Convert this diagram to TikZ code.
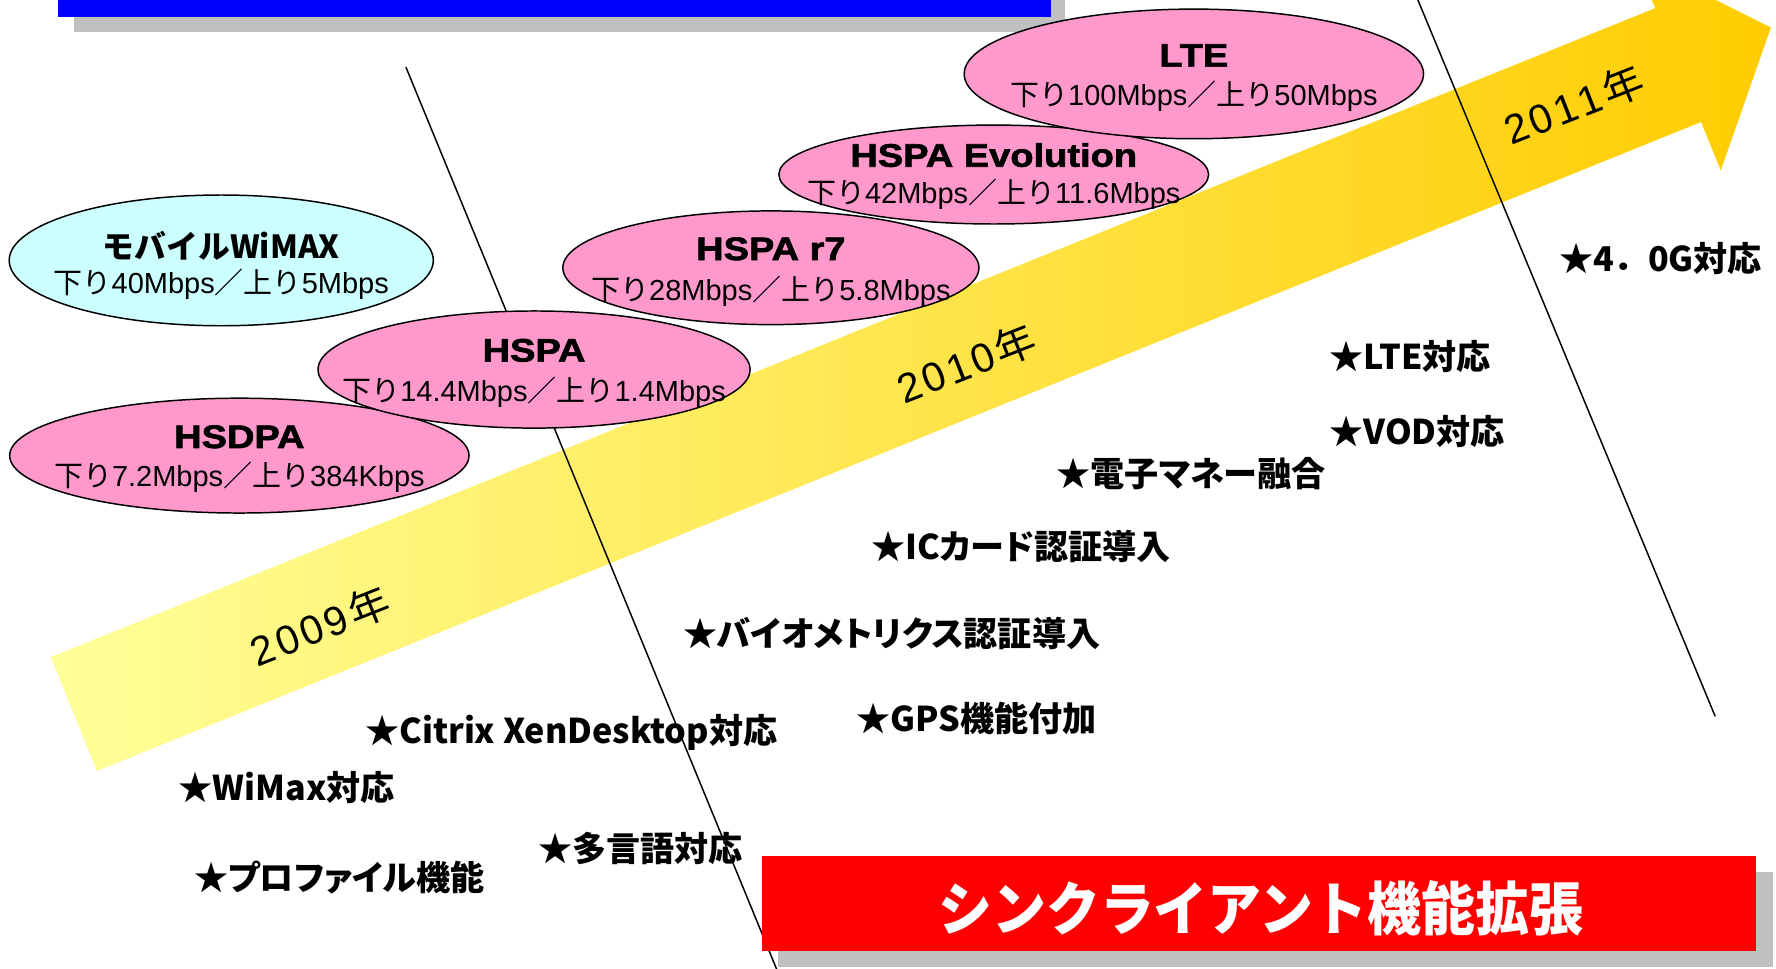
\documentclass[tikz,border=0pt]{standalone}
\usepackage{fontspec}
\setmainfont{Liberation Sans}
\newfontfamily\jp{Noto Sans CJK JP}
\newfontfamily\jpp[RawFeature=+palt]{Noto Sans CJK JP}
\newfontfamily\ttlf[FakeStretch=1.17, FakeBold=2]{Liberation Sans}
\newfontfamily\bigjp[FakeStretch=0.93]{Noto Sans CJK JP}
\usetikzlibrary{shapes.geometric}
\definecolor{pinkfill}{HTML}{FF99CC}
\definecolor{cyanfill}{HTML}{CCFFFF}
\definecolor{shadowgray}{HTML}{C0C0C0}
\definecolor{arrowL}{HTML}{FFFF99}
\definecolor{arrowR}{HTML}{FFCC00}
\definecolor{bannerblue}{HTML}{0000FF}
\definecolor{bannerred}{HTML}{FF0000}
\tikzset{
  ell/.style={ellipse, draw=black, line width=1.3pt, inner sep=0pt, outer sep=0pt},
  ttl/.style={anchor=base, inner sep=0pt, font=\ttlf\bfseries\fontsize{28.6}{30}\selectfont},
  jttl/.style={anchor=base, inner sep=0pt, font=\jp\bfseries\fontsize{28}{30}\selectfont},
  sub/.style={anchor=base, inner sep=0pt, font=\fontsize{25.5}{28}\selectfont},
  item/.style={anchor=base west, inner sep=0pt, font=\jpp\bfseries\fontsize{30}{32}\selectfont},
  yr/.style={rotate=21.5, inner sep=0pt, font=\fontsize{36}{38}\selectfont},
  divline/.style={draw=black, line width=1.3pt},
  box/.style={inner sep=0pt, outer sep=0pt, draw=none},
}
\newcommand\J[1]{{\jp #1}}
\newcommand\ks{\kern3pt}
\begin{document}
\begin{tikzpicture}[x=1pt,y=-1pt]
\useasboundingbox (0,0) rectangle (1562,852.2);
\clip (0,0) rectangle (1562,852.2);
% top banner (cut off)
\node[box, fill=shadowgray, anchor=south west, minimum width=872, minimum height=40] (bannershadow) at (64.8,27.9) {};
\node[box, fill=bannerblue, anchor=south west, minimum width=873.2, minimum height=40] (banner) at (51.2,14.7) {};
% big arrow
\shade[left color=arrowL, right color=arrowR]
  (44.75,577.9) -- (1455.65,7.19) -- (1438.4,-35.45) -- (1557.5,24.25)
  -- (1513.4,149.95) -- (1496.1,107.3) -- (85.25,678.06) -- cycle;
% year labels
\node[yr] (y2009) at (281.4,550.5) {2\ks0\ks0\ks9\ks\J{年}};
\node[yr] (y2010) at (850,319.5) {2\ks0\ks1\ks0\ks\J{年}};
\node[yr] (y2011) at (1384,92) {2\ks0\ks1\ks1\ks\J{年}};
% divider lines
\draw[divline] (357,59) -- (687,862);
\draw[divline] (1245.8,-3) -- (1508.5,630);
% ellipses
\node[ell, fill=cyanfill, minimum width=373, minimum height=115] (wimax) at (194.6,229) {};
\node[jttl] (wimaxT) at (194.6,227) {モバイルWiMAX};
\node[sub] (wimaxS) at (194.6,258) {\J{下り}40Mbps\J{／上り}5Mbps};

\node[ell, fill=pinkfill, minimum width=404, minimum height=101] (hsdpa) at (210.5,400.7) {};
\node[ttl] (hsdpaT) at (210.5,394) {HSDPA};
\node[sub] (hsdpaS) at (210.5,428) {\J{下り}7.2Mbps\J{／上り}384Kbps};

\node[ell, fill=pinkfill, minimum width=380, minimum height=103] (hspa) at (469.7,325) {};
\node[ttl] (hspaT) at (469.7,318) {HSPA};
\node[sub] (hspaS) at (469.7,353.3) {\J{下り}14.4Mbps\J{／上り}1.4Mbps};

\node[ell, fill=pinkfill, minimum width=366, minimum height=100] (r7) at (678,235.5) {};
\node[ttl] (r7T) at (678,228.7) {HSPA r7};
\node[sub] (r7S) at (678,263.9) {\J{下り}28Mbps\J{／上り}5.8Mbps};

\node[ell, fill=pinkfill, minimum width=378, minimum height=87] (evo) at (874,153.5) {};
\node[ttl] (evoT) at (874,146.6) {HSPA Evolution};
\node[sub] (evoS) at (874,179.4) {\J{下り}42Mbps\J{／上り}11.6Mbps};

\node[ell, fill=pinkfill, minimum width=404, minimum height=114] (lte) at (1050,65) {};
\node[ttl] (lteT) at (1050,58.6) {LTE};
\node[sub] (lteS) at (1050,93.2) {\J{下り}100Mbps\J{／上り}50Mbps};
% feature items
\node[item, font=\jp\bfseries\fontsize{30}{32}\selectfont] (i40g) at (1371,239) {★4．0G対応};
\node[item] (ilte) at (1169,325) {★LTE対応};
\node[item] (ivod) at (1169,390.5) {★VOD対応};
\node[item] (iemoney) at (929,428) {★電子マネー融合};
\node[item] (iic) at (766,492.5) {★ICカード認証導入};
\node[item] (ibio) at (600.6,568.7) {★バイオメトリクス認証導入};
\node[item] (igps) at (753,643.5) {★GPS機能付加};
\node[item] (icitrix) at (321,653.7) {★Citrix XenDesktop対応};
\node[item] (iwimax) at (157,703.6) {★WiMax対応};
\node[item] (ilang) at (473,757.8) {★多言語対応};
\node[item] (iprof) at (170.5,782.8) {★プロファイル機能};
% thin client banner
\node[box, fill=shadowgray, anchor=north west, minimum width=874.6, minimum height=83.5] (thinshadow) at (684.6,766.6) {};
\node[box, fill=bannerred, anchor=north west, minimum width=874.6, minimum height=83.5] (thin) at (670,752.9) {};
\node[inner sep=0pt, text=white, font=\bigjp\bfseries\fontsize{51}{54}\selectfont] (thinT) at (1108.8,799) {シンクライアント機能拡張};
\end{tikzpicture}
\end{document}
